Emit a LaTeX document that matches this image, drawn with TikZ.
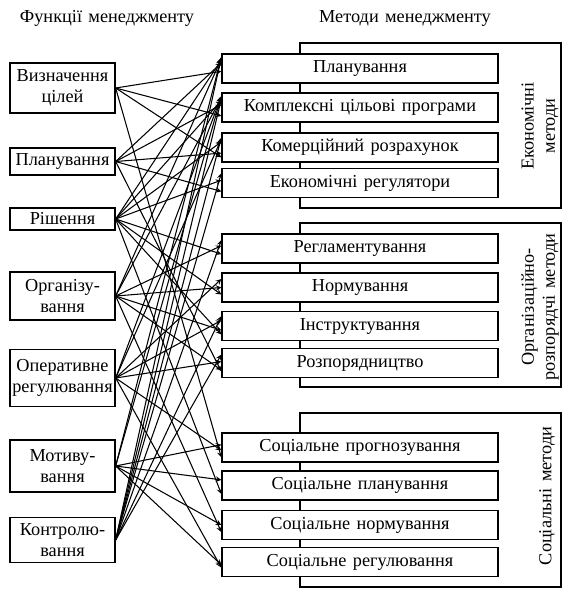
\documentclass[tikz,border=0pt]{standalone}
\usepackage{fontspec}
\setmainfont[WordSpace={1.4}]{Liberation Serif}

\begin{document}
\begin{tikzpicture}[>=stealth, x=0.025cm, y=-0.025cm,
    font=\fontsize{13}{15}\selectfont,
    func/.style={draw, line width=0.9pt, minimum width=2.625cm, align=center, inner sep=1pt},
    meth/.style={draw, line width=0.9pt, fill=white, minimum width=6.9cm, minimum height=0.725cm},
    frame/.style={draw, line width=1.3pt},
    link/.style={->, line width=0.75pt}]
    \useasboundingbox (0,0) rectangle (570,600);

    % Headings
    \node (ftitle) at (107,18) {Функції менеджменту};
    \node (mtitle) at (405,18) {Методи менеджменту};

    % Functions
    \node[func, minimum height=1.25cm]  (f1) at (62.5,88)  {Визначення\\цілей};
    \node[func, minimum height=0.675cm] (f2) at (62.5,161.5) {Планування};
    \node[func, minimum height=0.55cm]  (f3) at (62.5,219)  {Рішення};
    \node[func, minimum height=1.2cm]   (f4) at (62.5,296)  {Організу-\\вання};
    \node[func, minimum height=1.425cm] (f5) at (62.5,378)  {Оперативне\\регулювання};
    \node[func, minimum height=1.3cm]   (f6) at (62.5,466)  {Мотиву-\\вання};
    \node[func, minimum height=1.125cm] (f7) at (62.5,540)  {Контролю-\\вання};

    % Economic methods
    \draw[frame] (300,43) rectangle (561,208);
    \node[rotate=90, align=center] (g1) at (540,126) {Економічні\\методи};
    \node[meth] (m1) at (360,68.5)  {Планування};
    \node[meth] (m2) at (360,107.5) {Комплексні цільові програми};
    \node[meth] (m3) at (360,147.5) {Комерційний розрахунок};
    \node[meth] (m4) at (360,183)   {Економічні регулятори};

    % Organisational methods
    \draw[frame] (300,223) rectangle (561,387);
    \node[rotate=90, align=center] (g2) at (540,307) {Організаційно-\\розпорядчі методи};
    \node[meth] (r1) at (360,248.5) {Регламентування};
    \node[meth] (r2) at (360,287.5) {Нормування};
    \node[meth] (r3) at (360,326)   {Інструктування};
    \node[meth] (r4) at (360,363)   {Розпорядництво};

    % Social methods
    \draw[frame] (300,413) rectangle (561,587);
    \node[rotate=90] (g3) at (547,496) {Соціальні методи};
    \node[meth] (s1) at (360,447.5) {Соціальне прогнозування};
    \node[meth] (s2) at (360,485.5) {Соціальне планування};
    \node[meth] (s3) at (360,525)   {Соціальне нормування};
    \node[meth] (s4) at (360,562)   {Соціальне регулювання};

    % Links
    \foreach \a/\b/\d in {f1/m1/2, f1/m2/6, f1/m3/7, f1/s1/7,
        f2/m1/-4, f2/m2/-2, f2/m3/4, f2/m4/6, f2/r4/6,
        f3/m1/-6, f3/m2/-5, f3/m3/-4, f3/m4/-2, f3/r1/4, f3/r2/5, f3/r3/6, f3/s2/6,
        f4/m1/-7, f4/m2/-7, f4/r1/-2, f4/r2/0, f4/r3/3, f4/r4/5, f4/s3/5,
        f5/m2/-8, f5/m3/-6, f5/r2/-6, f5/r3/-4, f5/r4/-1, f5/s1/2, f5/s4/4,
        f6/m1/-8, f6/m2/-8, f6/s1/-2, f6/s2/-4, f6/s3/0, f6/s4/2,
        f7/m1/-8, f7/m2/-6, f7/m3/-7, f7/m4/-7, f7/r1/-6, f7/r3/-7, f7/r4/-6}
        \draw[link] (\a.east) -- ([yshift=-\d pt]\b.west);
\end{tikzpicture}
\end{document}
